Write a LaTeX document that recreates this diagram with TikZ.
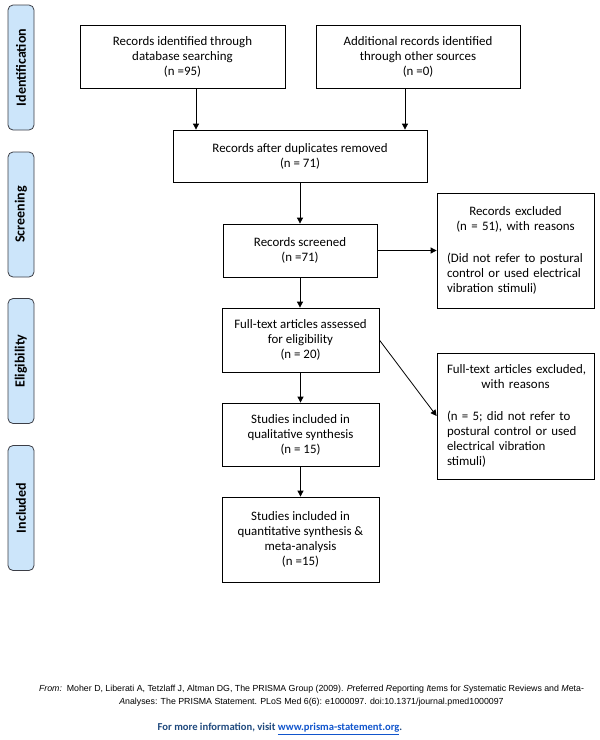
\documentclass[tikz,border=0pt]{standalone}
\usepackage{fontspec}
\setmainfont{Carlito}
\newfontfamily\arialfont{Liberation Sans}
\usetikzlibrary{arrows.meta}

\definecolor{barblue}{RGB}{204,229,250}
\definecolor{barline}{RGB}{60,62,70}
\definecolor{infoblue}{RGB}{31,73,125}
\definecolor{linkblue}{RGB}{17,85,204}

\tikzset{
  boxbase/.style={draw, line width=0.8pt, inner xsep=10pt,
    font=\fontsize{12.9}{15}\selectfont},
  flowbox/.style={boxbase, align=center},
  reasonbox/.style={boxbase, text width=137pt, minimum height=#1},
  phasebar/.style={draw=barline, fill=barblue, line width=0.8pt, rounded corners=5pt,
    rotate=90, minimum width=125pt, minimum height=26pt, inner sep=0pt,
    font=\fontsize{14}{16}\selectfont\bfseries},
  arr/.style={line width=0.8pt, -{Triangle[length=6pt,width=6pt]}}
}

\begin{document}
\begin{tikzpicture}[x=1pt,y=-1pt]
  \useasboundingbox (0,0) rectangle (600,740);

      % phase bars on the left
      \begin{scope}[every node/.style={phasebar}]
        \node (idbar)   at (21,67.5) {Identification};
        \node (scrbar)  at (21,214.5) {Screening};
        \node (eligbar) at (21,361) {Eligibility};
        \node (inclbar) at (21,508) {Included};
      \end{scope}

      \begin{scope}[every node/.style={flowbox}]
        \node[minimum width=205pt, minimum height=63pt] (iddb) at (182.5,56.5)
          {Records identified through\\ database searching\\ (n =95)};
        \node[minimum width=204pt, minimum height=63pt] (idother) at (418,56.5)
          {Additional records identified\\ through other sources\\ (n =0)};
        \node[minimum width=254pt, minimum height=52pt] (duprem) at (300,156)
          {Records after duplicates removed\\ (n = 71)};
        \node[minimum width=154pt, minimum height=53pt] (screened) at (300,250.5)
          {Records screened\\ (n =71)};
        \node[minimum width=157pt, minimum height=64pt] (fulltext) at (300.5,340)
          {Full-text articles assessed\\ for eligibility\\ (n = 20)};
        \node[minimum width=157pt, minimum height=63pt] (qual) at (300.5,434.5)
          {Studies included in\\ qualitative synthesis\\ (n = 15)};
        \node[minimum width=157pt, minimum height=85pt] (quant) at (300.5,539.5)
          {Studies included in\\ quantitative synthesis \&\\ meta-analysis\\ (n =15)};
      \end{scope}

      % boxes with reasons
      \node[reasonbox=115pt] (recexcl) at (515.5,250.5)
        {\centering Records excluded\\ \mbox{(n = 51), with reasons}\par\vspace{17pt}
         \raggedright \mbox{(Did not refer to postural}\\ \mbox{control or used electrical}\\ vibration stimuli)\par};
      \node[reasonbox=126pt] (ftexcl) at (515.5,416)
        {\centering \mbox{Full-text articles excluded,}\\ with reasons\par\vspace{17pt}
         \raggedright \mbox{(n = 5; did not refer to}\\ \mbox{postural control or used}\\ electrical vibration\\ stimuli)\par};

      \begin{scope}[every edge/.style={draw, arr}]
        \path ([xshift=13.5pt]iddb.south) edge ([xshift=13.5pt]iddb.south |- duprem.north);
        \path ([xshift=-13pt]idother.south) edge ([xshift=-13pt]idother.south |- duprem.north);
        \path (duprem.south) edge (duprem.south |- screened.north);
        \path (screened.east) edge (recexcl.west);
        \path (screened.south) edge (screened.south |- fulltext.north);
        \path (fulltext.east) edge (ftexcl.west);
        \path (fulltext.south) edge (qual.north);
        \path (qual.south) edge (quant.north);
      \end{scope}

      % source and link
      \node[align=center, font=\arialfont\fontsize{8.8}{13}\selectfont] (source) at (311.5,696)
        {\textit{From:}\ \ Moher D, Liberati A, Tetzlaff J, Altman DG, The PRISMA Group (2009). \textit{P}referred \textit{R}eporting \textit{I}tems for \textit{S}ystematic Reviews and \textit{M}eta-\\
         \textit{A}nalyses: The PRISMA Statement. PLoS Med 6(6): e1000097. doi:10.1371/journal.pmed1000097};
      \node[font=\fontsize{10.6}{12}\selectfont\bfseries, text=infoblue] (info) at (280,729)
        {For more information, visit \textcolor{linkblue}{\underline{www.prisma-statement.org}}.};

\end{tikzpicture}
\end{document}
